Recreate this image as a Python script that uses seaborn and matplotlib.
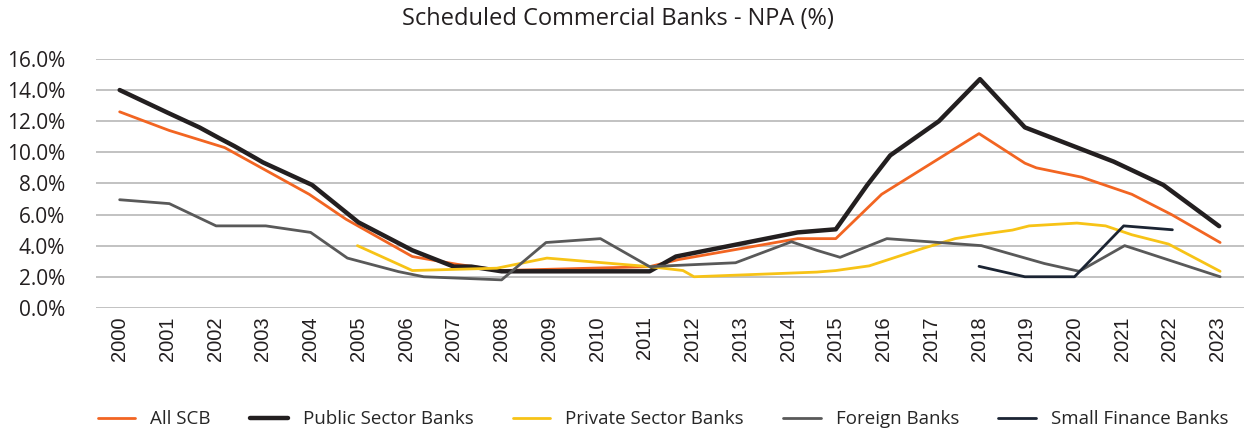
import matplotlib
matplotlib.use("Agg")
import matplotlib.pyplot as plt
import seaborn as sns
import pandas as pd
from matplotlib.ticker import FuncFormatter

# ---- data (year positions, NPA %) ----
scb_x = [2000, 2001.04, 2002.2, 2003.97, 2004.74, 2006.13, 2007.07, 2008.0, 2011.1, 2011.7,
         2014.2, 2015.0, 2015.96, 2018.0, 2018.96, 2019.2, 2020.15, 2021.2, 2022.03, 2023.05]
scb_y = [12.6, 11.4, 10.3, 7.3, 5.7, 3.3, 2.8, 2.4, 2.65, 3.1,
         4.45, 4.45, 7.3, 11.2, 9.3, 9.0, 8.4, 7.3, 6.0, 4.2]

psb_x = [2000, 2001.0, 2001.67, 2002.09, 2002.4, 2002.86, 2003.0, 2004.03, 2005.0, 2006.13,
         2007.0, 2007.37, 2008.0, 2011.1, 2011.65, 2014.2, 2015.0, 2015.66, 2016.14, 2017.16,
         2018.02, 2018.96, 2020.82, 2021.86, 2023.03]
psb_y = [14.0, 12.55, 11.6, 10.9, 10.4, 9.6, 9.35, 7.9, 5.5, 3.7,
         2.65, 2.65, 2.35, 2.35, 3.3, 4.85, 5.05, 7.9, 9.8, 12.0,
         14.7, 11.6, 9.4, 7.9, 5.25]

pvt_x = [2004.98, 2006.13, 2007.9, 2008.95, 2011.1, 2011.8, 2012.03, 2014.6, 2015.0, 2015.7,
         2016.8, 2017.5, 2018.0, 2018.7, 2019.05, 2020.05, 2020.65, 2021.2, 2021.97, 2023.05]
pvt_y = [4.0, 2.4, 2.55, 3.2, 2.65, 2.4, 2.0, 2.3, 2.4, 2.7,
         3.8, 4.45, 4.7, 5.0, 5.27, 5.45, 5.27, 4.7, 4.1, 2.35]

fgn_x = [2000, 2001.04, 2002.02, 2003.06, 2004.0, 2004.77, 2005.84, 2006.37, 2008.0, 2008.93,
         2010.07, 2011.1, 2012.9, 2014.07, 2014.6, 2015.09, 2016.07, 2018.05, 2019.37, 2020.1,
         2021.05, 2023.05]
fgn_y = [6.95, 6.7, 5.27, 5.27, 4.85, 3.2, 2.33, 2.0, 1.8, 4.2,
         4.45, 2.65, 2.9, 4.25, 3.7, 3.25, 4.45, 4.0, 2.85, 2.35,
         4.0, 2.0]

sfb_x = [2018.0, 2018.96, 2020.0, 2021.03, 2022.05]
sfb_y = [2.67, 2.0, 2.0, 5.27, 5.02]

years = list(range(2000, 2024))
y_ticks = [0, 2, 4, 6, 8, 10, 12, 14, 16]

series = [
    ("All SCB", scb_x, scb_y, "#F26522", 2.0),
    ("Public Sector Banks", psb_x, psb_y, "#231F20", 3.2),
    ("Private Sector Banks", pvt_x, pvt_y, "#F7C316", 2.0),
    ("Foreign Banks", fgn_x, fgn_y, "#595959", 2.0),
    ("Small Finance Banks", sfb_x, sfb_y, "#1B2433", 2.0),
]

sns.set_theme(style="white")
plt.rcParams["font.family"] = ["Open Sans", "DejaVu Sans"]

fig = plt.figure(figsize=(12.44, 4.30), dpi=100)
ax = fig.add_axes([0.077, 0.284, 0.923, 0.579])

for name, xs, ys, col, lw in series:
    df = pd.DataFrame({"year": xs, "npa": ys})
    sns.lineplot(data=df, x="year", y="npa", ax=ax, color=col, linewidth=lw,
                 label=name, sort=False, estimator=None)

ax.set_xlim(1999.5, 2023.55)
ax.set_ylim(0, 16)
ax.set_xticks(years)
ax.set_xticklabels([str(y) for y in years], rotation=90, fontsize=14.5, color="#231F20",
                   family=["Liberation Sans", "DejaVu Sans"])
ax.set_yticks(y_ticks)
ax.yaxis.set_major_formatter(FuncFormatter(lambda v, p: f"{v:.1f}%"))
ax.tick_params(axis="y", labelsize=15, labelcolor="#231F20", length=0, pad=22)
ax.tick_params(axis="x", length=0, pad=6)
ax.yaxis.grid(True, color="#BDBDBD", linewidth=1.3)
ax.xaxis.grid(False)
for s in ax.spines.values():
    s.set_visible(False)
ax.set_xlabel("")
ax.set_ylabel("")
fig.text(0.497, 0.955, "Scheduled Commercial Banks - NPA (%)", fontsize=17, color="#231F20",
         ha="center", va="center")

handles, labels = ax.get_legend_handles_labels()
ax.get_legend().remove()
fig.legend(handles, labels, loc="lower center", bbox_to_anchor=(0.533, -0.035), ncol=5,
           frameon=False, fontsize=13.5, handlelength=2.0, columnspacing=2.1, handletextpad=0.8)

fig.savefig("out.png", dpi=100)
